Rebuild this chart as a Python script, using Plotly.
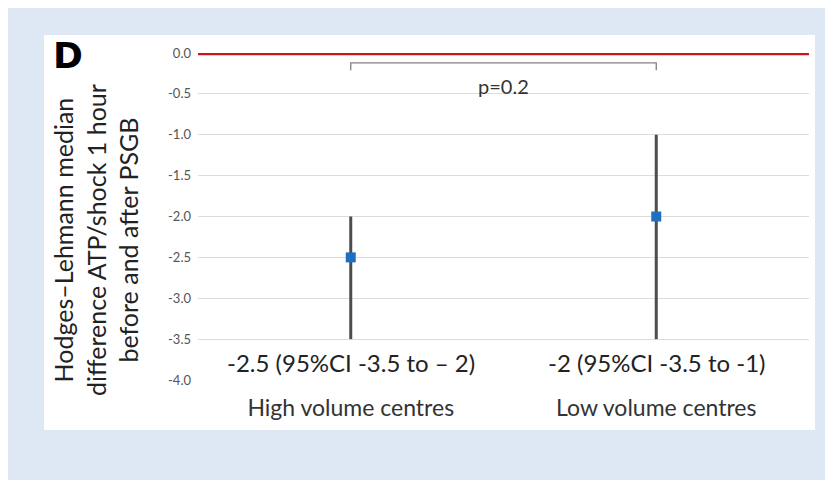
import plotly.graph_objects as go

categories = ["High volume centres", "Low volume centres"]
medians = [-2.5, -2.0]
ci_low = [-3.5, -3.5]
ci_high = [-2.0, -1.0]
ci_labels = ["-2.5 (95%CI -3.5 to \u2013 2)", "-2 (95%CI -3.5 to -1)"]
y_ticks = [0.0, -0.5, -1.0, -1.5, -2.0, -2.5, -3.0, -3.5, -4.0]
y_tick_labels = ["0.0", "-0.5", "-1.0", "-1.5", "-2.0", "-2.5", "-3.0", "-3.5", "-4.0"]
p_label = "p=0.2"
panel_label = "D"
y_title = "Hodges\u2013Lehmann median<br>difference ATP/shock 1 hour<br>before and after PSGB"

OFF = 8  # page body margin
W, H = 825, 475
L, R, T, B = 190, 24, 45, 103
pw, ph = W - L - R, H - T - B

def px(x):
    return (x - OFF - L) / pw

def py(y):
    return (H - B - (y - OFF)) / ph

fig = go.Figure()
fig.add_trace(go.Scatter(
    x=categories, y=medians, mode="markers",
    marker=dict(symbol="square", size=10, color="#1f6fc0"),
    error_y=dict(type="data", symmetric=False,
                 array=[h - m for h, m in zip(ci_high, medians)],
                 arrayminus=[m - l for m, l in zip(medians, ci_low)],
                 thickness=3, width=0, color="#4d4d4d"),
    showlegend=False,
))

shapes = [
    dict(type="rect", xref="paper", yref="paper", x0=px(8), x1=px(828), y0=py(480), y1=py(0),
         fillcolor="#dde8f4", line=dict(width=0), layer="below"),
    dict(type="rect", xref="paper", yref="paper", x0=px(44), x1=px(815), y0=py(430), y1=py(35),
         fillcolor="#ffffff", line=dict(width=0), layer="below"),
    dict(type="line", xref="paper", yref="y", x0=0, x1=1, y0=0, y1=0,
         line=dict(color="#c8161d", width=4.5)),
    dict(type="path", xref="x", yref="y",
         path="M 0,-0.21 L 0,-0.12 L 1,-0.12 L 1,-0.21",
         line=dict(color="#808080", width=1.3)),
]

annotations = [
    dict(x=0.5, y=-0.40, xref="x", yref="y", text=p_label, showarrow=False,
         font=dict(family="Lato", size=20, color="#333333")),
    dict(x=px(68), y=py(55), xref="paper", yref="paper", text="<b>" + panel_label + "</b>",
         xanchor="center", yanchor="middle",
         showarrow=False, font=dict(family="DejaVu Sans", size=36, color="#000000")),
    dict(x=px(95), y=py(240), xref="paper", yref="paper", text=y_title, textangle=-90,
         xanchor="center", yanchor="middle",
         showarrow=False, font=dict(family="Lato", size=25, color="#222222")),
]
for c, lab in zip(categories, ci_labels):
    annotations.append(dict(x=c, y=-3.78, xref="x", yref="y", text=lab, showarrow=False,
                            font=dict(family="Lato", size=24, color="#222222")))

fig.update_layout(
    width=W, height=H, margin=dict(l=L, r=R, t=T, b=B),
    paper_bgcolor="#ffffff", plot_bgcolor="rgba(0,0,0,0)",
    shapes=shapes, annotations=annotations, showlegend=False,
    xaxis=dict(type="category", range=[-0.5, 1.5], showgrid=False, zeroline=False,
               showline=False, ticks="", ticklabelstandoff=12,
               tickfont=dict(family="Lato", size=23, color="#333333")),
    yaxis=dict(range=[-4.0, 0.0], tickvals=y_ticks, ticktext=y_tick_labels,
               showgrid=True, gridcolor="#dcdcdc", gridwidth=1, zeroline=False,
               showline=False, ticks="", ticklabelstandoff=6,
               tickfont=dict(family="Lato", size=13, color="#555555")),
)

fig.write_html("out.html")
